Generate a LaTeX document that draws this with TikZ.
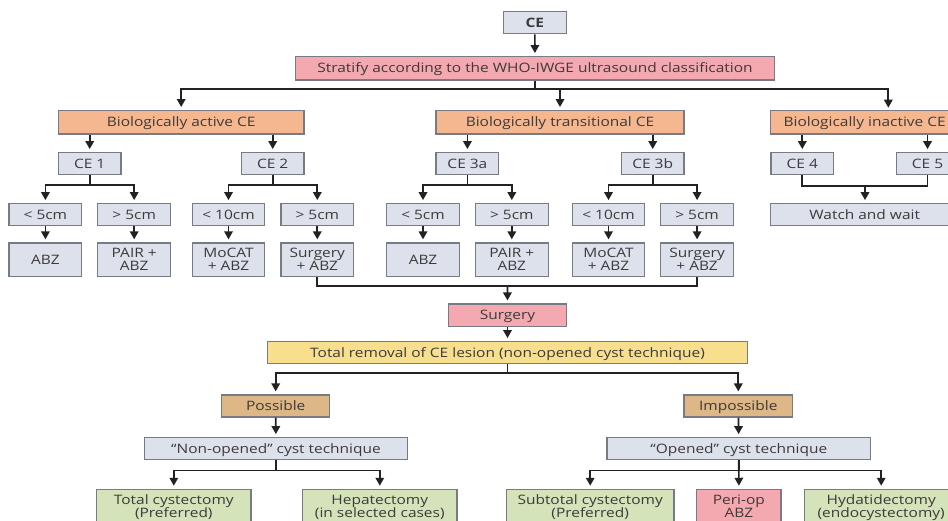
\documentclass[tikz,border=0pt]{standalone}
\usepackage{fontspec}
\setmainfont[FakeStretch=1.19]{Open Sans}
\usetikzlibrary{arrows.meta,calc}
\definecolor{cgrey}{HTML}{DDE1EB}
\definecolor{cpink}{HTML}{F4A8B0}
\definecolor{corange}{HTML}{F5B78F}
\definecolor{cyellow}{HTML}{F8DF8E}
\definecolor{ctan}{HTML}{DDB785}
\definecolor{cgreen}{HTML}{D4E3BA}
\definecolor{cedge}{HTML}{777C84}
\definecolor{ctext}{HTML}{3C3A3A}
\definecolor{cline}{HTML}{222222}
\newcommand\twolines[2]{\makebox[0pt]{\raisebox{6.5pt}[0pt][0pt]{#1}}\makebox[0pt]{\raisebox{-6.5pt}[0pt][0pt]{#2}}}
\tikzset{
  x=1pt,y=-1pt,
  box/.style 2 args={draw=cedge,line width=1.2pt,inner sep=0pt,text=ctext,
    font=\fontsize{13}{13}\selectfont,minimum width=#1pt,minimum height=#2pt,
    execute at begin node={\rule{0pt}{12.85pt}},
    execute at end node={\rule[-3.55pt]{0pt}{3.55pt}}},
  grey/.style={fill=cgrey}, pink/.style={fill=cpink}, orange/.style={fill=corange},
  yellow/.style={fill=cyellow}, tan/.style={fill=ctan}, green/.style={fill=cgreen},
  conn/.style={draw=cline,line width=1.7pt},
  arr/.style={conn,-{Triangle[width=8.5pt,length=8pt]},shorten >=3pt},
}
\begin{document}
\begin{tikzpicture}
\useasboundingbox (0,0) rectangle (948,520);
\clip (0,0) rectangle (948,520);
% top
\node[box={63}{22},grey,font=\fontsize{13}{13}\selectfont\bfseries] (ce) at (534.8,22.8) {CE};
\node[box={478.6}{23.3},pink] (strat) at (535,68.3) {Stratify according to the WHO-IWGE ultrasound classification};
\node[box={245.7}{23.3},orange] (act) at (181.2,122.3) {Biologically active CE};
\node[box={248}{23.3},orange] (tra) at (560,122.3) {Biologically transitional CE};
\node[box={188}{23.3},orange] (ina) at (864.7,122.3) {Biologically inactive CE};
% CE row
\node[box={62.7}{22},grey] (c1) at (89.7,163.7) {CE 1};
\node[box={62.7}{22},grey] (c2) at (272.7,163.7) {CE 2};
\node[box={62.7}{22},grey] (c3a) at (467.4,163.7) {CE 3a};
\node[box={62.7}{22},grey] (c3b) at (652.7,163.7) {CE 3b};
\node[box={62.7}{22},grey] (c4) at (802.3,163.7) {CE 4};
\node[box={62.7}{22},grey] (c5) at (927.5,163.7) {CE 5};
% size row
\node[box={72.7}{21.6},grey] (s1) at (45.4,214.5) {< 5cm};
\node[box={72.7}{21.6},grey] (s2) at (134.2,214.5) {> 5cm};
\node[box={72.7}{21.6},grey] (s3) at (228.5,214.5) {< 10cm};
\node[box={72.7}{21.6},grey] (s4) at (317.3,214.5) {> 5cm};
\node[box={72.7}{21.6},grey] (s5) at (423,214.5) {< 5cm};
\node[box={72.7}{21.6},grey] (s6) at (511.8,214.5) {> 5cm};
\node[box={72.7}{21.6},grey] (s7) at (608.5,214.5) {< 10cm};
\node[box={72.7}{21.6},grey] (s8) at (697.1,214.5) {> 5cm};
\node[box={188}{21.6},grey] (watch) at (864.7,214.5) {Watch and wait};
% treatment row
\node[box={72.7}{33.7},grey] (t1) at (45.4,259.8) {ABZ};
\node[box={72.7}{33.7},grey] (t2) at (134.2,259.8) {\twolines{PAIR +}{ABZ}};
\node[box={72.7}{33.7},grey] (t3) at (228.5,259.8) {\twolines{MoCAT}{+ ABZ}};
\node[box={72.7}{33.7},grey] (t4) at (317.3,259.8) {\twolines{Surgery}{+ ABZ}};
\node[box={72.7}{33.7},grey] (t5) at (423,259.8) {ABZ};
\node[box={72.7}{33.7},grey] (t6) at (511.8,259.8) {\twolines{PAIR +}{ABZ}};
\node[box={72.7}{33.7},grey] (t7) at (608.5,259.8) {\twolines{MoCAT}{+ ABZ}};
\node[box={72.7}{33.7},grey] (t8) at (697.1,259.8) {\twolines{Surgery}{+ ABZ}};
% lower part
\node[box={117.4}{22.3},pink] (surg) at (507.5,315.2) {Surgery};
\node[box={480.6}{21.6},yellow] (tot) at (507.5,352.5) {Total removal of CE lesion (non-opened cyst technique)};
\node[box={108}{22},tan] (pos) at (275.7,406) {Possible};
\node[box={108.6}{22},tan] (imp) at (738.3,406) {Impossible};
\node[box={262.4}{22},grey] (non) at (276,448.7) {“Non-opened” cyst technique};
\node[box={263.7}{22},grey] (ope) at (738.8,448.7) {“Opened” cyst technique};
\node[box={154.4}{33.7},green] (b1) at (173.8,506.2) {\twolines{Total cystectomy}{(Preferred)}};
\node[box={154.4}{33.7},green] (b2) at (379.8,506.2) {\twolines{Hepatectomy}{(in selected cases)}};
\node[box={167.6}{33.7},green] (b3) at (590.2,506.2) {\twolines{Subtotal cystectomy}{(Preferred)}};
\node[box={84.2}{33.7},pink] (b4) at (738.9,506.2) {\twolines{Peri-op}{ABZ}};
\node[box={154}{33.7},green] (b5) at (881.2,506.2) {\twolines{Hydatidectomy}{(endocystectomy)}};
% bus coordinates
\coordinate (busA) at (535,89.3);
\coordinate (inaIn) at (888.3,110.7);
\coordinate (busB) at (507.4,286.3);
\coordinate (busC) at (507.5,373.3);
\coordinate (busW) at (865,185.7);
% connectors
\draw[arr] (ce) -- (strat);
\draw[conn] (strat) -- (strat.south) -- (busA);
\draw[arr] (busA) -| (act.north);
\draw[arr] (busA) -| (tra.north);
\draw[arr] (busA) -| (inaIn);
\foreach \c in {c1,c2}{\draw[arr] (act.south -| \c) -- (\c);}
\foreach \c in {c3a,c3b}{\draw[arr] (tra.south -| \c) -- (\c);}
\foreach \c in {c4,c5}{\draw[arr] (ina.south -| \c) -- (\c);}
\foreach \p/\l/\r in {c1/s1/s2,c2/s3/s4,c3a/s5/s6,c3b/s7/s8}{
  \draw[conn] (\p.south) -- ++(0,9.5) coordinate (j);
  \draw[arr] (j) -| (\l.north);
  \draw[arr] (j) -| (\r.north);
}
\draw[conn] (c4.south) |- (busW);
\draw[conn] (c5.south) |- (busW);
\draw[arr] (busW) -- (busW |- watch.north);
\foreach \i in {1,...,8}{\draw[arr] (s\i) -- (t\i);}
\draw[conn] (t4.south) |- (busB);
\draw[conn] (t8.south) |- (busB);
\draw[arr] (busB) -- (surg.north);
\draw[arr] (surg) -- (tot);
\draw[conn] (tot.south) -- (busC);
\draw[arr] (busC) -| (pos.north);
\draw[arr] (busC) -| (imp.north);
\draw[arr] (pos) -- (non);
\draw[arr] (imp) -- (ope);
\draw[conn] (non.south) -- ++(0,10.3) coordinate (jn);
\draw[arr] (jn) -| (b1.north);
\draw[arr] (jn) -| (b2.north);
\draw[conn] (ope.south) -- ++(0,10.3) coordinate (jo);
\draw[arr] (jo) -| (b3.north);
\draw[arr] (ope.south) -- (b4.north);
\draw[arr] (jo) -| (b5.north);
\end{tikzpicture}
\end{document}
